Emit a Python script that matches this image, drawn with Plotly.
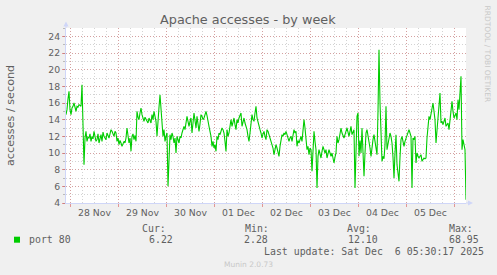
import pandas as pd
import plotly.graph_objects as go

# ---- data (30-minute samples, accesses / second) ----
series_start = "2025-11-27 21:50"
series_freq = "30min"
port80_values = [
    14.6, 15.2, 16.5, 17.4, 15.2, 14.6, 15.4, 15.6, 16.0, 15.3,
    15.0, 15.6, 15.5, 15.8, 15.7, 15.6, 18.2, 12.5, 8.6, 11.8,
    12.6, 11.4, 11.9, 11.8, 12.3, 11.4, 12.0, 11.7, 12.6, 12.0,
    11.4, 11.6, 12.3, 11.2, 11.8, 12.2, 11.4, 12.5, 12.0, 11.8,
    11.6, 12.4, 12.0, 11.8, 12.3, 12.8, 12.6, 12.2, 12.0, 12.6,
    12.4, 11.4, 11.8, 11.0, 11.5, 11.2, 10.8, 11.1, 11.4, 11.2,
    11.8, 13.0, 12.0, 11.2, 11.8, 10.2, 12.0, 12.3, 11.6, 12.1,
    11.4, 15.0, 14.3, 14.0, 14.8, 15.4, 14.6, 14.2, 13.8, 14.3,
    14.0, 13.8, 13.6, 14.2, 13.9, 13.6, 14.6, 14.0, 15.0, 14.5,
    13.8, 12.0, 14.4, 15.5, 17.0, 14.8, 13.6, 12.0, 12.8, 11.4,
    12.0, 12.4, 6.0, 9.5, 12.2, 11.6, 12.4, 12.0, 11.2, 11.8,
    10.0, 12.0, 11.6, 11.2, 12.0, 11.8, 12.4, 12.8, 13.2, 12.8,
    13.6, 14.4, 13.8, 13.2, 13.8, 14.2, 12.4, 13.6, 14.8, 13.9,
    13.0, 14.4, 13.4, 12.6, 13.5, 14.6, 14.4, 14.0, 14.2, 14.6,
    15.0, 14.5, 14.0, 13.2, 12.6, 12.0, 10.8, 11.4, 10.6, 11.0,
    10.2, 12.0, 11.6, 12.4, 12.2, 12.6, 13.0, 12.8, 12.4, 11.4,
    10.2, 12.8, 12.0, 12.4, 13.2, 14.0, 13.2, 13.6, 14.2, 13.4,
    12.8, 14.0, 13.6, 14.2, 14.5, 14.8, 13.2, 13.8, 14.2, 13.6,
    13.2, 12.8, 12.0, 11.4, 12.4, 13.2, 14.6, 14.0, 13.8, 14.8,
    15.6, 14.2, 13.6, 13.0, 12.8, 12.4, 11.8, 12.3, 12.6, 12.0,
    11.6, 12.8, 12.6, 12.2, 11.8, 11.4, 11.0, 10.6, 9.8, 10.5,
    11.0, 10.6, 10.2, 9.6, 10.8, 11.6, 12.2, 12.0, 12.4, 12.2,
    12.6, 12.2, 11.8, 11.4, 11.8, 12.0, 11.4, 12.0, 12.8, 12.4,
    12.6, 10.8, 11.5, 11.2, 11.8, 12.0, 11.4, 12.5, 14.0, 13.0,
    12.0, 10.4, 10.8, 9.8, 10.6, 10.4, 7.8, 10.0, 12.6, 11.4,
    10.4, 5.8, 9.6, 10.4, 10.0, 9.4, 10.2, 10.8, 10.4, 10.0,
    10.4, 9.4, 9.9, 10.4, 10.0, 9.6, 10.0, 9.4, 8.8, 9.5,
    10.0, 12.0, 11.2, 11.6, 12.4, 13.0, 12.4, 12.0, 11.8, 12.2,
    12.6, 13.0, 12.5, 12.0, 12.6, 13.2, 12.2, 12.6, 12.8, 5.8,
    10.5, 14.4, 14.8, 9.6, 11.5, 10.0, 13.0, 10.5, 7.2, 10.0,
    12.4, 12.8, 12.2, 11.6, 10.6, 9.6, 10.8, 11.6, 12.2, 11.2,
    10.4, 9.8, 15.0, 22.4, 16.0, 12.4, 9.0, 9.6, 9.3, 11.0,
    15.6, 10.4, 11.0, 11.6, 12.4, 12.0, 11.2, 9.5, 7.0, 10.0,
    12.2, 8.6, 7.8, 6.6, 9.5, 11.6, 12.0, 11.4, 10.8, 11.4,
    11.8, 12.0, 12.4, 12.8, 12.4, 12.0, 5.8, 11.8, 11.6, 12.0,
    8.8, 10.0, 9.6, 9.4, 9.6, 9.8, 9.0, 9.2, 9.4, 9.3,
    9.4, 11.8, 13.0, 14.4, 14.0, 14.8, 15.6, 16.0, 15.0, 14.0,
    11.2, 13.0, 14.8, 16.0, 17.2, 13.6, 13.8, 13.4, 13.8, 14.2,
    13.2, 13.4, 13.6, 12.8, 13.8, 14.6, 16.2, 15.0, 14.2, 14.5,
    14.8, 14.0, 16.4, 15.2, 17.0, 19.2, 10.4, 11.6, 11.0, 10.4, 4.4,
]
day_midnights = ["2025-11-28", "2025-11-29", "2025-11-30", "2025-12-01", "2025-12-02",
                 "2025-12-03", "2025-12-04", "2025-12-05", "2025-12-06"]
day_labels = ["28 Nov", "29 Nov", "30 Nov", "01 Dec", "02 Dec", "03 Dec", "04 Dec", "05 Dec"]
y_ticks = [4, 6, 8, 10, 12, 14, 16, 18, 20, 22, 24]
legend_name = "port 80"
stat_headers = ["Cur:", "Min:", "Avg:", "Max:"]
stat_values = ["6.22", "2.28", "12.10", "68.95"]
title_text = "Apache accesses - by week"
y_title = "accesses / second"
last_update = "Last update: Sat Dec  6 05:30:17 2025"
version_text = "Munin 2.0.73"
side_text = "RRDTOOL / TOBI OETIKER"

# ---- figure ----
times = pd.date_range(series_start, periods=len(port80_values), freq=series_freq)
x_range = [times[0], times[0] + pd.Timedelta(minutes=30 * 400)]

W, H = 497, 275
L, R, T, B = 66, 31, 28, 72
PW, PH = W - L - R, H - T - B


def px(xp):
    return (xp - L) / PW


def py(yp):
    return (T + PH - yp) / PH


FONT = "#606060"
MAJOR = "rgba(215,90,90,0.42)"
MINOR = "rgba(150,150,150,0.42)"
AXIS = "#CFD6F8"

fig = go.Figure()
fig.add_trace(go.Scatter(x=times, y=port80_values, mode="lines",
                         line=dict(color="#00CC00", width=1.1), showlegend=False,
                         hoverinfo="skip"))

fig.update_layout(
    width=W, height=H,
    margin=dict(l=L, r=R, t=T, b=B, autoexpand=False),
    paper_bgcolor="#F0F0F0", plot_bgcolor="#FFFFFF",
    font=dict(family="DejaVu Sans", size=9.3, color=FONT),
    showlegend=False,
    xaxis=dict(
        type="date", range=x_range, tickmode="array",
        tickvals=day_midnights, showticklabels=False,
        showgrid=True, gridcolor=MAJOR, griddash="1px,2px", gridwidth=1,
        ticks="outside", ticklen=3, tickcolor="rgba(215,90,90,0.6)",
        minor=dict(dtick=6 * 3600 * 1000, tick0="2025-11-28", showgrid=True,
                   gridcolor=MINOR, griddash="1px,2px", gridwidth=1, ticks=""),
        showline=True, linecolor=AXIS, linewidth=1, zeroline=False,
        fixedrange=True,
    ),
    yaxis=dict(
        range=[4, 25], tickmode="array", tickvals=y_ticks,
        ticktext=[str(v) for v in y_ticks],
        showgrid=True, gridcolor=MAJOR, griddash="1px,2px", gridwidth=1,
        ticks="outside", ticklen=3, tickcolor="rgba(215,90,90,0.6)",
        minor=dict(dtick=1, tick0=0, showgrid=True, gridcolor=MINOR,
                   griddash="1px,2px", gridwidth=1, ticks="outside", ticklen=2,
                   tickcolor="rgba(150,150,150,0.6)"),
        showline=True, linecolor=AXIS, linewidth=1, zeroline=False,
        tickfont=dict(size=9.3, color=FONT), fixedrange=True,
    ),
)

# axis arrows (decoration)
fig.add_shape(type="line", xref="paper", yref="paper", x0=0, x1=0, y0=1, y1=py(24),
              line=dict(color=AXIS, width=1))
fig.add_shape(type="path", xref="paper", yref="paper",
              path=f"M {px(L-2.6)} {py(26.5)} L {px(L+2.6)} {py(26.5)} L {px(L)} {py(21.5)} Z",
              fillcolor=AXIS, line=dict(width=0))
fig.add_shape(type="line", xref="paper", yref="paper", x0=1, x1=px(469), y0=0, y1=0,
              line=dict(color=AXIS, width=1))
fig.add_shape(type="path", xref="paper", yref="paper",
              path=f"M {px(468)} {py(200.5)} L {px(468)} {py(205.5)} L {px(473)} {py(203)} Z",
              fillcolor=AXIS, line=dict(width=0))

# day labels at noon
for d, lab in zip(day_midnights[:-1], day_labels):
    fig.add_annotation(x=pd.Timestamp(d) + pd.Timedelta(hours=12), y=py(212.5),
                       xref="x", yref="paper", text=lab, showarrow=False,
                       xanchor="center", yanchor="middle",
                       font=dict(family="DejaVu Sans", size=9.3, color=FONT))

# titles
fig.add_annotation(x=px(248), y=py(19.5), xref="paper", yref="paper", text=title_text,
                   showarrow=False, xanchor="center", yanchor="middle",
                   font=dict(family="DejaVu Sans", size=12.8, color=FONT))
fig.add_annotation(x=px(10), y=py(115), xref="paper", yref="paper", text=y_title,
                   showarrow=False, textangle=-90, xanchor="center", yanchor="middle",
                   font=dict(family="DejaVu Sans", size=11.2, color=FONT))
fig.add_annotation(x=px(487), y=py(53.5), xref="paper", yref="paper", text=side_text,
                   showarrow=False, textangle=90, xanchor="center", yanchor="middle",
                   font=dict(family="DejaVu Sans", size=7.5, color="#C8C8C8"))

# legend
MONO = dict(family="DejaVu Sans Mono", size=9.9, color=FONT)
fig.add_shape(type="rect", xref="paper", yref="paper", x0=px(14), x1=px(20),
              y0=py(242.7), y1=py(236.7), fillcolor="#00CC00", line=dict(width=0))
fig.add_annotation(x=px(26.7), y=py(239.5), xref="paper", yref="paper", text=legend_name,
                   showarrow=False, xanchor="left", yanchor="middle", font=MONO)
header_x = [140, 243, 345, 446.7]
value_x = [147, 241.5, 345.5, 447.3]
for hx, vx, hdr, val in zip(header_x, value_x, stat_headers, stat_values):
    fig.add_annotation(x=px(hx), y=py(228.3), xref="paper", yref="paper", text=hdr,
                       showarrow=False, xanchor="left", yanchor="middle", font=MONO)
    fig.add_annotation(x=px(vx), y=py(239.5), xref="paper", yref="paper", text=val,
                       showarrow=False, xanchor="left", yanchor="middle", font=MONO)
fig.add_annotation(x=px(261.7), y=py(251), xref="paper", yref="paper",
                   text=last_update.replace("  ", "&nbsp; "),
                   showarrow=False, xanchor="left", yanchor="middle", font=MONO)
fig.add_annotation(x=px(248), y=py(264.3), xref="paper", yref="paper", text=version_text,
                   showarrow=False, xanchor="center", yanchor="middle",
                   font=dict(family="DejaVu Sans", size=7.5, color="#C8C8C8"))

fig.write_html("out.html", config={"displayModeBar": False})
